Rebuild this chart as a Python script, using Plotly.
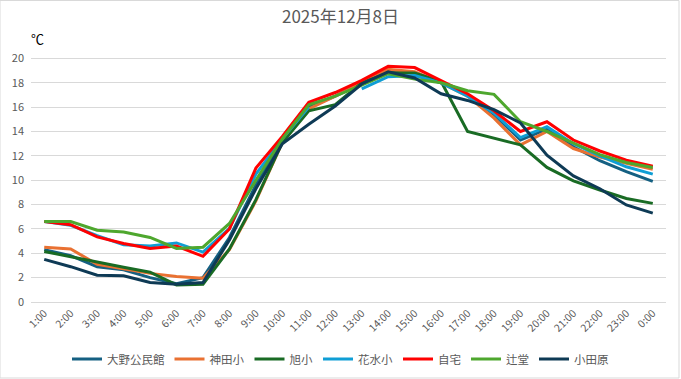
import plotly.graph_objects as go

hours = ["1:00", "2:00", "3:00", "4:00", "5:00", "6:00", "7:00", "8:00", "9:00", "10:00",
         "11:00", "12:00", "13:00", "14:00", "15:00", "16:00", "17:00", "18:00", "19:00",
         "20:00", "21:00", "22:00", "23:00", "0:00"]

ono = [4.3, 3.8, 2.9, 2.65, 2.0, 1.5, 2.0, 5.3, 9.6, 13.2, 16.0, 16.9, 18.0, 19.0, 18.8, 18.0,
       17.0, 15.4, 13.3, 14.2, 12.75, 11.6, 10.7, 9.9]
kanda = [4.5, 4.35, 3.1, 2.75, 2.35, 2.1, 1.95, 4.3, 8.3, 13.1, 15.85, 16.9, 18.0, 19.1, 18.9, 18.0,
         16.9, 15.1, 12.9, 14.0, 12.6, 11.9, 11.4, 10.9]
asahi = [4.15, 3.7, 3.3, 2.85, 2.45, 1.4, 1.45, 4.35, 8.4, 13.1, 15.7, 16.2, 18.0, 18.8, 18.8, 18.1,
         14.0, 13.45, 12.9, 11.05, 9.95, 9.2, 8.5, 8.1]
hanamizu = [6.6, 6.3, 5.45, 4.7, 4.6, 4.85, 4.1, 6.05, 10.5, 13.4, 16.0, None, 17.5, 18.5, 18.6, 18.0,
            16.9, 15.5, 13.5, 14.4, 13.0, 12.0, 11.1, 10.5]
jitaku = [6.6, 6.35, 5.35, 4.8, 4.4, 4.6, 3.75, 6.0, 11.0, 13.6, 16.4, 17.2, 18.2, 19.35, 19.25, 18.2,
          17.1, 15.7, 14.0, 14.8, 13.3, 12.4, 11.65, 11.15]
tsujido = [6.6, 6.6, 5.9, 5.75, 5.3, 4.4, 4.5, 6.45, 10.0, 13.4, 16.2, 16.9, 17.8, 18.75, 18.3, 18.0,
           17.35, 17.05, 14.8, 14.0, 13.05, 12.1, 11.45, 11.05]
odawara = [3.5, 2.9, 2.2, 2.15, 1.6, 1.45, 1.6, 5.1, 9.3, 13.0, 14.6, 16.1, 17.9, 18.9, 18.4, 17.1,
           16.55, 15.8, 14.7, 12.05, 10.35, 9.3, 7.97, 7.3]

series_names = ["大野公民館", "神田小", "旭小", "花水小", "自宅", "辻堂", "小田原"]
series_values = [ono, kanda, asahi, hanamizu, jitaku, tsujido, odawara]
series_colors = ["#156082", "#E97132", "#196B24", "#0F9ED5", "#FF0000", "#4EA72E", "#0E3A55"]

y_ticks = list(range(0, 21, 2))

FONT = "Noto Sans CJK JP"

fig = go.Figure()
for name, vals, col in zip(series_names, series_values, series_colors):
    fig.add_trace(go.Scatter(
        x=hours, y=vals, name=name, mode="lines",
        line=dict(color=col, width=3), connectgaps=False,
    ))

fig.update_layout(
    width=681, height=379,
    margin=dict(l=31, r=15, t=56, b=77),
    paper_bgcolor="white", plot_bgcolor="white",
    font=dict(family=FONT, color="#595959"),
    title=dict(text="2025年12月8日", x=0.5, xref="container", xanchor="center",
               y=1 - 17 / 379, yref="container", yanchor="middle",
               font=dict(size=17, color="#595959", family=FONT)),
    showlegend=True,
    legend=dict(orientation="h", x=0.5, xref="container", xanchor="center",
                y=(379 - 359) / 379, yref="container", yanchor="middle",
                font=dict(size=11.5, color="#595959", family=FONT),
                itemwidth=30, tracegroupgap=0, bgcolor="rgba(0,0,0,0)"),
    xaxis=dict(type="category", categoryorder="array", categoryarray=hours,
               range=[-0.5, len(hours) - 0.5], tickangle=-45, automargin=False,
               tickfont=dict(size=10.5, color="#595959"), showgrid=False,
               showline=True, linecolor="#d9d9d9", linewidth=1, ticks="", zeroline=False),
    yaxis=dict(range=[0, 20.2], tickvals=y_ticks, ticktext=[str(v) for v in y_ticks],
               tickfont=dict(size=11, color="#595959"), showgrid=True, automargin=False,
               gridcolor="#d9d9d9", gridwidth=1, zeroline=False, showline=False,
               ticks="", ticklabelstandoff=6),
    annotations=[dict(text="℃", xref="paper", yref="paper", x=0, y=1,
                      xshift=6, yshift=18, xanchor="center", yanchor="middle",
                      showarrow=False, font=dict(size=13, color="#000000", family=FONT))],
    shapes=[dict(type="rect", xref="paper", yref="paper",
                 x0=-31 / 635, x1=1 + 13 / 635, y0=-76 / 246, y1=1 + 55.5 / 246,
                 line=dict(color="#d9d9d9", width=1), fillcolor="rgba(0,0,0,0)", layer="below")],
)

fig.write_html("out.html", config={"displayModeBar": False},
               post_script="document.body.style.margin='0';")
